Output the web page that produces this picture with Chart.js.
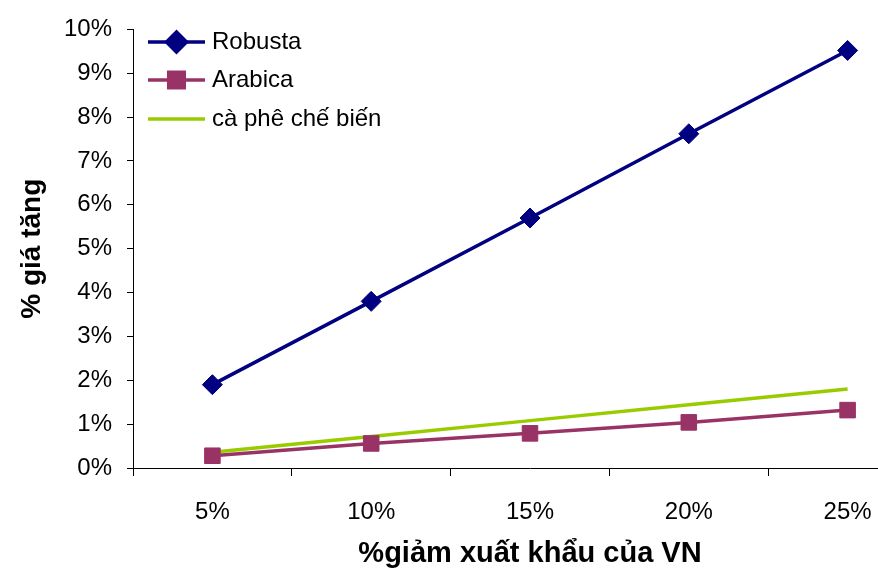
<!DOCTYPE html>
<html>
<head>
<meta charset="utf-8">
<script src="https://cdn.jsdelivr.net/npm/chart.js@4/dist/chart.umd.min.js"></script>
<style>
  html, body { margin: 0; padding: 0; overflow: hidden; background: #fff; }
  #wrap { width: 939px; height: 572px; }
</style>
</head>
<body>
<div id="wrap"><canvas id="grafico"></canvas></div>
<script>
const categorias = ["5%", "10%", "15%", "20%", "25%"];
const robusta = [1.9, 3.8, 5.7, 7.62, 9.52];
const arabica = [0.28, 0.56, 0.79, 1.04, 1.32];
const cheBien = [0.36, 0.72, 1.08, 1.44, 1.8];
const ticksY = [0, 1, 2, 3, 4, 5, 6, 7, 8, 9, 10];

const FONT = "'Liberation Sans', Arial, sans-serif";

// legend drawn inside the plot, line sample + marker
const legendaInterna = {
  id: "legendaInterna",
  afterDraw(chart) {
    const ctx = chart.ctx;
    const x0 = 148, x1 = 205;
    const ys = [42, 80, 119];
    ctx.save();
    chart.data.datasets.forEach((ds, i) => {
      const y = ys[i];
      ctx.strokeStyle = ds.borderColor;
      ctx.lineWidth = ds.borderWidth;
      ctx.beginPath();
      ctx.moveTo(x0, y);
      ctx.lineTo(x1, y);
      ctx.stroke();
      if (ds.pointRadius > 0) {
        ctx.fillStyle = ds.pointBackgroundColor;
        ctx.strokeStyle = ds.pointBorderColor;
        Chart.helpers.drawPoint(ctx, {
          pointStyle: ds.pointStyle,
          radius: ds.pointRadius,
          rotation: 0,
          borderWidth: 1
        }, (x0 + x1) / 2, y);
      }
      ctx.fillStyle = "#000";
      ctx.font = "24px " + FONT;
      ctx.textBaseline = "middle";
      ctx.textAlign = "left";
      ctx.fillText(ds.label, 212, y);
    });
    ctx.restore();
  }
};

new Chart(document.getElementById("grafico"), {
  type: "line",
  data: {
    labels: categorias,
    datasets: [
      {
        label: "Robusta",
        data: robusta,
        borderColor: "#000080",
        backgroundColor: "#000080",
        pointBackgroundColor: "#000080",
        pointBorderColor: "#000080",
        borderWidth: 3.5,
        pointStyle: "rectRot",
        pointRadius: 10,
        pointBorderWidth: 1,
      },
      {
        label: "Arabica",
        data: arabica,
        borderColor: "#993366",
        backgroundColor: "#993366",
        pointBackgroundColor: "#993366",
        pointBorderColor: "#993366",
        borderWidth: 3.5,
        pointStyle: "rect",
        pointRadius: 11,
        pointBorderWidth: 1,
      },
      {
        label: "cà phê chế biến",
        data: cheBien,
        borderColor: "#99CC00",
        backgroundColor: "#99CC00",
        borderWidth: 3.5,
        pointRadius: 0,
      },
    ],
  },
  options: {
    responsive: true,
    maintainAspectRatio: false,
    animation: false,
    layout: { padding: { top: 24, left: 0, right: 0, bottom: 0 } },
    plugins: {
      legend: { display: false },
      tooltip: { enabled: false },
    },
    scales: {
      x: {
        offset: true,
        afterFit: (s) => { s.height = 104; },
        grid: {
          offset: true,
          drawOnChartArea: false,
          tickLength: 8,
          color: "#000",
        },
        border: { color: "#000", width: 1 },
        ticks: {
          color: "#000",
          padding: 22,
          maxRotation: 0,
          font: { family: FONT, size: 24 },
        },
        title: {
          display: true,
          text: "%giảm xuất khẩu của VN",
          color: "#000",
          font: { family: FONT, size: 29, weight: "bold" },
          padding: { top: 0, bottom: 1 },
        },
      },
      y: {
        min: 0,
        max: 10,
        afterFit: (s) => { s.width = 133; },
        afterBuildTicks: (s) => { s.ticks = ticksY.map((v) => ({ value: v })); },
        grid: {
          drawOnChartArea: false,
          tickLength: 6,
          color: "#000",
        },
        border: { color: "#000", width: 1 },
        ticks: {
          color: "#000",
          padding: 15,
          font: { family: FONT, size: 24 },
          callback: (v) => v + "%",
        },
        title: {
          display: true,
          text: "% giá tăng",
          color: "#000",
          font: { family: FONT, size: 28, weight: "bold" },
          padding: { top: 15, bottom: 0 },
        },
      },
    },
  },
  plugins: [legendaInterna],
});
</script>
</body>
</html>
